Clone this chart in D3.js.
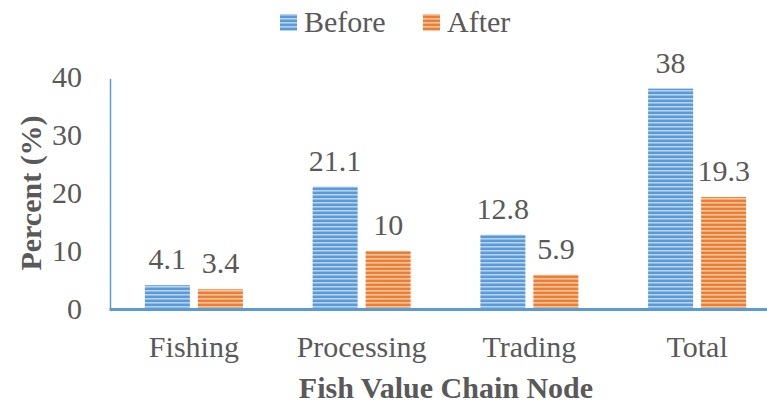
<!DOCTYPE html>
<html>
<head>
<meta charset="utf-8">
<script src="https://cdn.jsdelivr.net/npm/d3@7"></script>
<style>
  html, body { margin: 0; padding: 0; background: #fff; }
  svg { display: block; }
</style>
</head>
<body>
<svg id="chart" width="767" height="404" font-family="Liberation Serif"></svg>
<script>
const categories = ["Fishing", "Processing", "Trading", "Total"];
const seriesNames = ["Before", "After"];
const beforeValues = [4.1, 21.1, 12.8, 38];
const afterValues = [3.4, 10, 5.9, 19.3];
const yTicks = [0, 10, 20, 30, 40];

const colors = { Before: "#5B9BD5", After: "#ED7D31" };
const lightColors = { Before: "#B4D1EE", After: "#F8C6A2" };
const TEXT_COLOR = "#595959";

const svg = d3.select("#chart");
const defs = svg.append("defs");
seriesNames.forEach(s => {
  const p = defs.append("pattern")
    .attr("id", "pat-" + s)
    .attr("patternUnits", "userSpaceOnUse")
    .attr("width", 8).attr("height", 4);
  p.append("rect").attr("width", 8).attr("height", 4).attr("fill", colors[s]);
  p.append("rect").attr("y", 2).attr("width", 8).attr("height", 1.6).attr("fill", lightColors[s]);
});

const x0 = d3.scaleBand().domain(categories).range([110, 781]).padding(0);
const bw = x0.bandwidth();
const x1 = d3.scaleBand().domain(seriesNames).range([bw / 2 - 49, bw / 2 + 49]).paddingInner(0.151).paddingOuter(0);
const y = d3.scaleLinear().domain([0, 40]).range([309, 77]);

const data = categories.map((c, i) => ({ cat: c, vals: [
  { s: "Before", v: beforeValues[i] },
  { s: "After", v: afterValues[i] }
]}));

function styleText(sel, bold) {
  sel.attr("font-family", "Liberation Serif")
     .attr("font-size", 30)
     .attr("font-weight", bold ? "bold" : "normal")
     .style("font-family", '"Liberation Serif"')
     .attr("fill", TEXT_COLOR);
}

// Y axis
const yAxis = svg.append("g")
  .attr("transform", "translate(110,0)")
  .call(d3.axisLeft(y).tickValues(yTicks).tickSize(0).tickPadding(28));
yAxis.attr("font-family", "Liberation Serif").attr("font-size", 30);
yAxis.select(".domain").remove();
yAxis.selectAll("text").call(styleText, false);
svg.append("line")
  .attr("x1", 110.5).attr("x2", 110.5).attr("y1", 79).attr("y2", 309)
  .attr("stroke", "#5B9BD5").attr("stroke-width", 1.5);

// Bars
const groups = svg.append("g").selectAll("g").data(data).join("g")
  .attr("transform", d => `translate(${x0(d.cat)},0)`);
groups.selectAll("rect").data(d => d.vals).join("rect")
  .attr("x", d => x1(d.s))
  .attr("width", x1.bandwidth())
  .attr("y", d => y(d.v))
  .attr("height", d => y(0) - y(d.v))
  .attr("fill", d => `url(#pat-${d.s})`);
groups.selectAll("text.val").data(d => d.vals).join("text")
  .attr("class", "val")
  .attr("x", d => x1(d.s) + x1.bandwidth() / 2)
  .attr("y", d => y(d.v) - 16)
  .attr("text-anchor", "middle")
  .call(styleText, false)
  .text(d => d.v);

// X axis
const xAxis = svg.append("g")
  .attr("transform", "translate(0,309.5)")
  .call(d3.axisBottom(x0).tickSize(0).tickPadding(26));
xAxis.attr("font-family", "Liberation Serif").attr("font-size", 30);
xAxis.select(".domain").remove();
xAxis.selectAll("text").call(styleText, false);
svg.append("line")
  .attr("x1", 109.5).attr("x2", 767).attr("y1", 309.5).attr("y2", 309.5)
  .attr("stroke", "#5B9BD5").attr("stroke-width", 3);

// Axis titles
svg.append("text")
  .attr("x", 446).attr("y", 398)
  .attr("text-anchor", "middle")
  .call(styleText, true)
  .text("Fish Value Chain Node");
svg.append("text")
  .attr("transform", "translate(41,193) rotate(-90)")
  .attr("text-anchor", "middle")
  .call(styleText, true)
  .text("Percent (%)");

// Legend
const legendX = [280, 423];
seriesNames.forEach((s, i) => {
  svg.append("rect")
    .attr("x", legendX[i]).attr("y", 14).attr("width", 17).attr("height", 17)
    .attr("fill", `url(#pat-${s})`);
  svg.append("text")
    .attr("x", legendX[i] + 24).attr("y", 32)
    .call(styleText, false)
    .text(s);
});
</script>
</body>
</html>
